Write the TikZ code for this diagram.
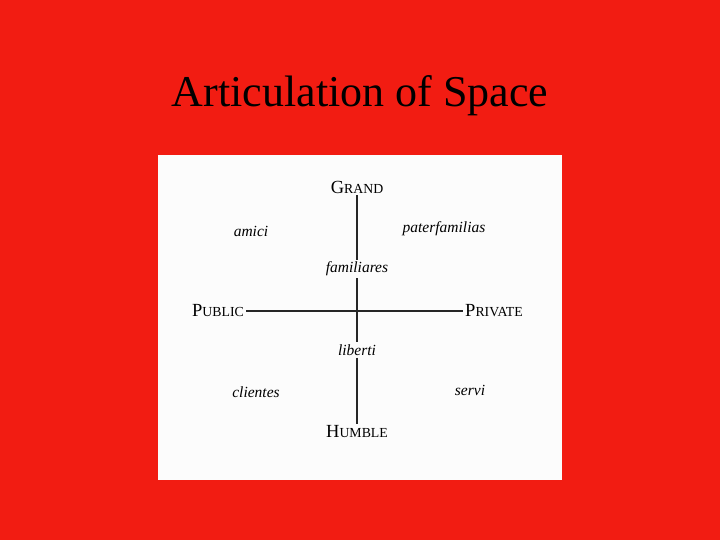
\documentclass[tikz,border=0pt]{standalone}
\usepackage{fontspec}
\setmainfont{Liberation Serif}
\usepackage{tikz}
\usetikzlibrary{positioning}
\definecolor{slidered}{RGB}{242,28,18}
\definecolor{paper}{RGB}{252,252,252}
\newcommand{\capsword}[2]{{\fontsize{18.5}{18.5}\selectfont #1}{\fontsize{13.8}{13.8}\selectfont #2}}
\tikzstyle{axis} = [inner sep=2pt, text=black]
\tikzstyle{group} = [inner sep=2pt, font=\fontsize{15.5}{15.5}\selectfont\itshape, text=black]
\tikzstyle{line} = [line width=1.2pt, black!85]

\begin{document}
\begin{tikzpicture}[x=1pt,y=-1pt]
        \useasboundingbox (0,0) rectangle (720,540);
        \fill[slidered] (0,0) rectangle (720,540);
        \node (title) at (360,96) {\fontsize{44}{44}\selectfont Articulation of Space};
        \fill[paper] (158,155) rectangle (562,480);
        % axes
        \node (grand) [axis] at (357,187) {\capsword{G}{RAND}};
        \node (humble) [axis] at (357,432) {\capsword{H}{UMBLE}};
        \node (public) [axis, anchor=base] at (218,316) {\capsword{P}{UBLIC}};
        \node (private) [axis, anchor=base] at (494,316) {\capsword{P}{RIVATE}};
        % groups
        \node (amici) [group] at (251,231) {amici};
        \node (pater) [group] at (444,229) {paterfamilias};
        \node (familiares) [group] at (357,269) {familiares};
        \node (liberti) [group] at (357,350) {liberti};
        \node (clientes) [group] at (256,392) {clientes};
        \node (servi) [group] at (470,390) {servi};
        \draw [line] (grand) -- (familiares);
        \draw [line] (familiares) -- (liberti);
        \draw [line] (liberti) -- (humble);
        \draw [line, line width=1.5pt] (public.east |- 0,311) -- (private.west |- 0,311);
    \end{tikzpicture}
\end{document}
